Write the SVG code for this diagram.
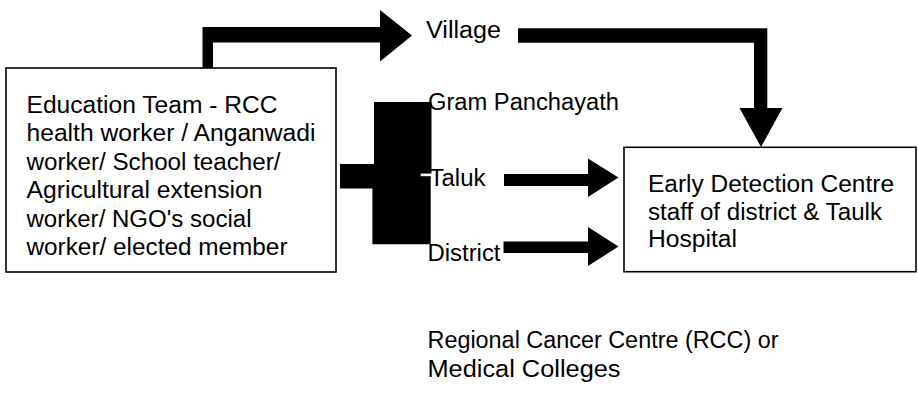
<svg xmlns="http://www.w3.org/2000/svg" width="918" height="393" viewBox="0 0 918 393">
<style>
text{font-family:"Liberation Sans",Arial,sans-serif;font-size:23.5px;fill:#000}
.box{fill:#fff;stroke:#000;stroke-width:1.6}
.ink{fill:#000}
</style>
<rect width="918" height="393" fill="#fff"/>
<g id="connectors">
<path class="ink" d="M202.5,70 V27 H380 V10 L412,35.5 L380,61.5 V42.5 H213 V70 Z"/>
<path class="ink" d="M518,28.3 H767.3 V108 H782.5 L761,147 L739.5,108 H754 V42.7 H518 Z"/>
<path class="ink" d="M504,174 H588 V158.5 L618.5,177.5 L588,197 V186 H504 Z"/>
<path class="ink" d="M503.5,241.5 H588 V227 L618.5,246.5 L588,266 V253 H503.5 Z"/>
<path class="ink" d="M374,102 H431.5 V173.5 H430.7 V244.3 H372.4 V188.5 H340 V164 H374 Z"/>
<rect x="420.7" y="173.6" width="11" height="2.6" fill="#fff"/>
</g>
<g id="education-team">
<rect class="box" x="6" y="68" width="330" height="204"/>
<text x="26.5" y="112.5" textLength="251" lengthAdjust="spacingAndGlyphs">Education Team - RCC</text>
<text x="26.5" y="141" textLength="289" lengthAdjust="spacingAndGlyphs">health worker / Anganwadi</text>
<text x="26.5" y="169.5" textLength="254" lengthAdjust="spacingAndGlyphs">worker/ School teacher/</text>
<text x="26.5" y="198" textLength="236" lengthAdjust="spacingAndGlyphs">Agricultural extension</text>
<text x="26.5" y="226.5" textLength="225" lengthAdjust="spacingAndGlyphs">worker/ NGO's social</text>
<text x="26.5" y="255" textLength="261" lengthAdjust="spacingAndGlyphs">worker/ elected member</text>
</g>
<g id="village"><text x="426" y="38" textLength="75" lengthAdjust="spacingAndGlyphs">Village</text></g>
<g id="gram-panchayath"><text x="428" y="109.5" textLength="191" lengthAdjust="spacingAndGlyphs">Gram Panchayath</text></g>
<g id="taluk"><text x="429.5" y="185.5" textLength="56" lengthAdjust="spacingAndGlyphs">Taluk</text></g>
<g id="district"><text x="427.5" y="261" textLength="73" lengthAdjust="spacingAndGlyphs">District</text></g>
<g id="early-detection-centre">
<rect class="box" x="624" y="147.3" width="292" height="124.4"/>
<text x="648" y="192" textLength="246" lengthAdjust="spacingAndGlyphs">Early Detection Centre</text>
<text x="648" y="219.5" textLength="234" lengthAdjust="spacingAndGlyphs">staff of district &amp; Taulk</text>
<text x="648" y="247" textLength="89" lengthAdjust="spacingAndGlyphs">Hospital</text>
</g>
<g id="rcc">
<text x="427.5" y="348" textLength="351" lengthAdjust="spacingAndGlyphs">Regional Cancer Centre (RCC) or</text>
<text x="427.5" y="376.5" textLength="193" lengthAdjust="spacingAndGlyphs">Medical Colleges</text>
</g>
</svg>
